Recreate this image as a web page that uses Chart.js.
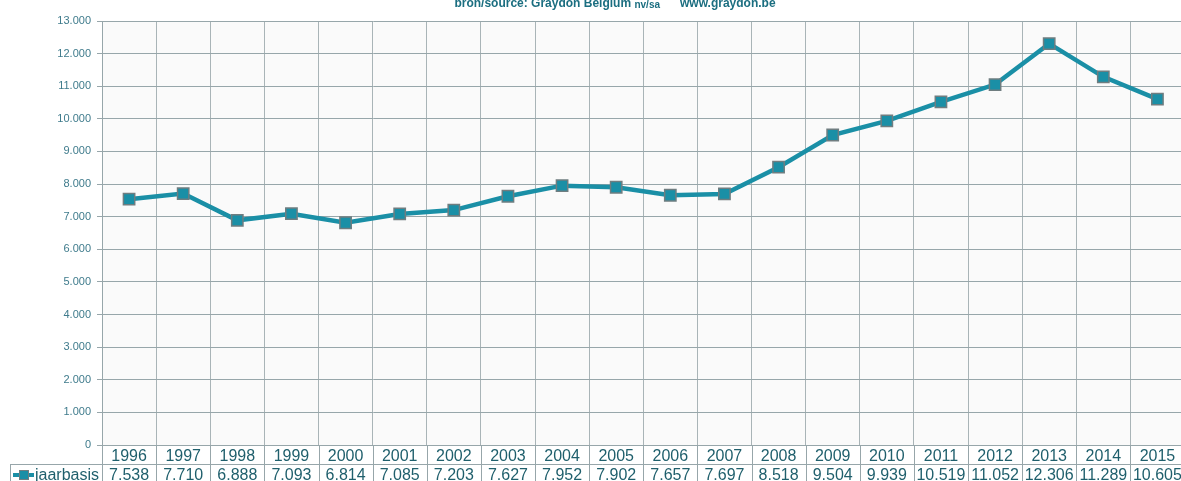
<!DOCTYPE html>
<html>
<head>
<meta charset="utf-8">
<script src="https://cdn.jsdelivr.net/npm/chart.js@4.4.0/dist/chart.umd.min.js"></script>
<style>
  html, body { margin: 0; padding: 0; background: #fff; overflow: hidden; }
  #wrap { position: absolute; left: 0; top: 0; width: 1194px; height: 492px; }
</style>
</head>
<body>
<div id="wrap"><canvas id="chart" width="1194" height="492"></canvas></div>
<script>
// data
const years = ['1996', '1997', '1998', '1999', '2000', '2001', '2002', '2003', '2004', '2005',
  '2006', '2007', '2008', '2009', '2010', '2011', '2012', '2013', '2014', '2015'];
const jaarbasis = [7538, 7710, 6888, 7093, 6814, 7085, 7203, 7627, 7952, 7902,
  7657, 7697, 8518, 9504, 9939, 10519, 11052, 12306, 11289, 10605];
const seriesName = 'jaarbasis';
const yMax = 13000;
const yStep = 1000;

const teal = '#1a8fa6';
const textTeal = '#1f5f6c';
const gridColor = '#97a6aa';
const fontFamily = '"Liberation Sans", Arial, sans-serif';

function fmt(v) {
  return String(Math.round(v)).replace(/\B(?=(\d{3})+(?!\d))/g, '.');
}

// plot background + table under the x axis + source line on top
const tablePlugin = {
  id: 'tablePlugin',
  beforeDraw(chart) {
    const a = chart.chartArea;
    const ctx = chart.ctx;
    ctx.save();
    ctx.fillStyle = '#fafafa';
    ctx.fillRect(a.left, a.top, a.right - a.left, a.bottom - a.top);
    ctx.restore();
  },
  afterDraw(chart) {
    const ctx = chart.ctx;
    const a = chart.chartArea;
    const x = chart.scales.x;
    const rowTop = a.bottom + 19;
    const rowMid = rowTop + 11;
    const bottom = chart.height;
    const half = (x.getPixelForValue(1) - x.getPixelForValue(0)) / 2;

    ctx.save();
    ctx.strokeStyle = gridColor;
    ctx.lineWidth = 1;
    // column borders below the plot
    for (let i = 0; i <= years.length; i++) {
      const px = Math.round(x.getPixelForValue(0) - half + i * half * 2) + 0.5;
      ctx.beginPath();
      ctx.moveTo(px, a.bottom);
      ctx.lineTo(px, bottom);
      ctx.stroke();
    }
    // value row
    ctx.beginPath();
    ctx.moveTo(10.5, rowTop + 0.5);
    ctx.lineTo(chart.width, rowTop + 0.5);
    ctx.moveTo(10.5, rowTop);
    ctx.lineTo(10.5, bottom);
    ctx.stroke();

    // legend key
    ctx.strokeStyle = teal;
    ctx.lineWidth = 4;
    ctx.beginPath();
    ctx.moveTo(13, rowMid);
    ctx.lineTo(34, rowMid);
    ctx.stroke();
    ctx.fillStyle = teal;
    ctx.strokeStyle = '#6f7d80';
    ctx.lineWidth = 1;
    ctx.fillRect(19.5, rowMid - 4.5, 9, 9);
    ctx.strokeRect(19.5, rowMid - 4.5, 9, 9);

    ctx.font = '16px ' + fontFamily;
    ctx.fillStyle = textTeal;
    ctx.textBaseline = 'middle';
    ctx.textAlign = 'left';
    ctx.fillText(seriesName, 35, rowMid + 1);
    ctx.textAlign = 'center';
    jaarbasis.forEach((v, i) => {
      ctx.fillText(fmt(v), x.getPixelForValue(i), rowMid + 1);
    });

    // source line
    ctx.fillStyle = '#1b6e80';
    ctx.textAlign = 'left';
    ctx.textBaseline = 'middle';
    const parts = [
      ['bold 12px ' + fontFamily, 'bron/source: Graydon Belgium '],
      ['bold 10px ' + fontFamily, 'nv/sa'],
      ['bold 12px ' + fontFamily, '      www.graydon.be']
    ];
    let total = 0;
    parts.forEach(p => { ctx.font = p[0]; total += ctx.measureText(p[1]).width; });
    let tx = 615 - total / 2;
    parts.forEach(p => {
      ctx.font = p[0];
      ctx.fillText(p[1], tx, p[0].indexOf('10px') > 0 ? 5 : 4);
      tx += ctx.measureText(p[1]).width;
    });
    ctx.restore();
  }
};

new Chart(document.getElementById('chart').getContext('2d'), {
  type: 'line',
  data: {
    labels: years,
    datasets: [{
      label: seriesName,
      data: jaarbasis,
      borderColor: teal,
      backgroundColor: teal,
      borderWidth: 4.5,
      pointStyle: 'rect',
      pointRadius: 8,
      pointHoverRadius: 8,
      pointBackgroundColor: teal,
      pointBorderColor: '#6f7d80',
      pointBorderWidth: 1.5,
      tension: 0
    }]
  },
  options: {
    responsive: false,
    devicePixelRatio: 1,
    animation: false,
    layout: { padding: { top: 21, right: 0, bottom: 0, left: 0 } },
    plugins: {
      legend: { display: false },
      title: { display: false },
      tooltip: { enabled: false }
    },
    scales: {
      x: {
        offset: true,
        grid: { offset: true, color: '#a9b4b7', drawTicks: false },
        border: { color: gridColor },
        ticks: { color: textTeal, font: { family: fontFamily, size: 16 }, padding: 2, maxRotation: 0, autoSkip: false },
        afterFit(scale) { scale.height = 47; }
      },
      y: {
        min: 0,
        max: yMax,
        grid: { color: gridColor, tickLength: 5 },
        border: { color: gridColor },
        ticks: {
          stepSize: yStep,
          color: '#3f7b8c',
          font: { family: fontFamily, size: 11 },
          padding: 6,
          callback: v => fmt(v)
        },
        afterFit(scale) { scale.width = 102; }
      }
    }
  },
  plugins: [tablePlugin]
});
</script>
</body>
</html>
